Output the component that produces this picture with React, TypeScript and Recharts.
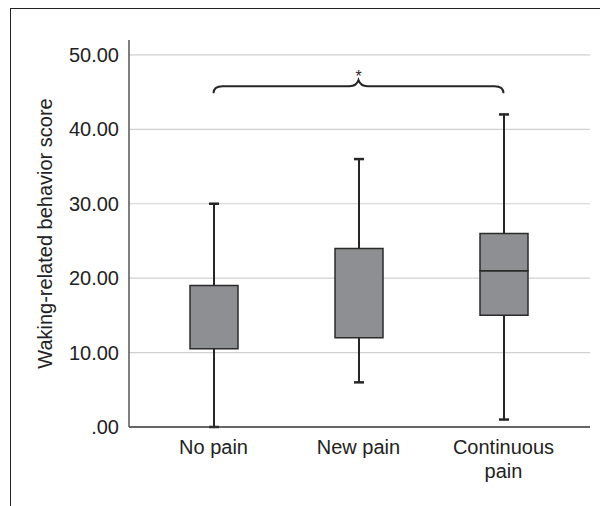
import { ComposedChart, Bar, XAxis, YAxis, CartesianGrid, ReferenceLine, Label } from 'recharts';

// box plot summary per group
const categories = ['No pain', 'New pain', 'Continuous pain'];
const mins = [0, 6, 1];
const q1s = [10.5, 12, 15];
const medians = [19, 24, 21];
const q3s = [19, 24, 26];
const maxs = [30, 36, 42];

const yTicks = [0, 10, 20, 30, 40, 50];
const braceLevel = 45.8;
const braceMark = '*';

const data = categories.map((name, i) => ({
    name,
    base: mins[i],
    lower: q1s[i] - mins[i],
    boxLow: medians[i] - q1s[i],
    boxHigh: q3s[i] - medians[i],
    upper: maxs[i] - q3s[i],
}));

const FONT = '"Liberation Sans", Arial, Helvetica, sans-serif';
const INK = '#262626';

const whisker = (capAt: 'top' | 'bottom') => (props: any) => {
    const { x, y, width, height } = props;
    const cx = x + width / 2;
    const capY = capAt === 'top' ? y : y + height;
    return (
        <g>
            <line x1={cx} x2={cx} y1={y} y2={y + height} stroke={INK} strokeWidth={2} />
            <line x1={cx - 5} x2={cx + 5} y1={capY} y2={capY} stroke={INK} strokeWidth={2.5} />
        </g>
    );
};

const braceShape = (props: any) => {
    const { x1, y1, x2 } = props;
    const mid = (x1 + x2) / 2;
    const d = `M${x1},${y1 + 7} Q${x1},${y1} ${x1 + 9},${y1} L${mid - 9},${y1} Q${mid - 2},${y1} ${mid},${y1 - 6} Q${mid + 2},${y1} ${mid + 9},${y1} L${x2 - 9},${y1} Q${x2},${y1} ${x2},${y1 + 7}`;
    return (
        <g>
            <path d={d} fill="none" stroke={INK} strokeWidth={2} />
            <text x={mid} y={y1 - 4} textAnchor="middle" fontSize={16} fill={INK} fontFamily={FONT}>
                {braceMark}
            </text>
        </g>
    );
};

const XTick = (props: any) => {
    const { x, y, payload } = props;
    const words = String(payload.value).split(' ');
    const lines = String(payload.value) === 'Continuous pain' ? [words[0], words.slice(1).join(' ')] : [payload.value];
    return (
        <text x={x} y={y + 27} textAnchor="middle" fontSize={20} fill="#222" fontFamily={FONT}>
            {lines.map((l: string, i: number) => (
                <tspan key={i} x={x} dy={i === 0 ? 0 : 24}>
                    {l}
                </tspan>
            ))}
        </text>
    );
};

const yLabel = (props: any) => {
    const vb = props.viewBox || {};
    const cy = vb.y + vb.height / 2;
    const cx = 45;
    return (
        <text
            x={cx}
            y={cy}
            transform={`rotate(-90, ${cx}, ${cy})`}
            textAnchor="middle"
            dominantBaseline="central"
            fontSize={20}
            fill="#222"
            fontFamily={FONT}
        >
            Waking-related behavior score
        </text>
    );
};

export default function App() {
    return (
        <div style={{ position: 'absolute', left: 0, top: 0, width: 600, height: 506, background: '#fff', fontFamily: FONT }}>
            <div
                style={{
                    position: 'absolute',
                    left: 10,
                    top: 8,
                    width: 590,
                    height: 497,
                    borderTop: '1.5px solid #222',
                    borderLeft: '1.5px solid #222',
                }}
            />
            <ComposedChart
                width={600}
                height={506}
                data={data}
                margin={{ top: 40, right: 10, bottom: 19, left: 0 }}
                style={{ position: 'absolute', left: 0, top: 0 }}
            >
                <CartesianGrid vertical={false} stroke="#d0d0d0" strokeWidth={1.2} horizontalValues={yTicks.slice(1)} />
                <XAxis
                    dataKey="name"
                    type="category"
                    height={60}
                    padding={{ left: 12, right: 14 }}
                    tickLine={false}
                    tickSize={0}
                    tickMargin={0}
                    axisLine={{ stroke: '#333', strokeWidth: 1.5 }}
                    tick={<XTick />}
                    interval={0}
                />
                <YAxis
                    type="number"
                    width={129}
                    domain={[0, 52]}
                    ticks={yTicks}
                    tickFormatter={(v: number) => (v === 0 ? '.00' : v.toFixed(2))}
                    tickLine={false}
                    tickSize={0}
                    tickMargin={10}
                    axisLine={{ stroke: '#555', strokeWidth: 1.5 }}
                    tick={{ fontSize: 20, fill: '#222', fontFamily: FONT }}
                >
                    <Label content={yLabel} />
                </YAxis>
                <Bar dataKey="base" stackId="box" barSize={48} fill="none" isAnimationActive={false} />
                <Bar dataKey="lower" stackId="box" barSize={48} shape={whisker('bottom')} isAnimationActive={false} />
                <Bar dataKey="boxLow" stackId="box" barSize={48} fill="#8e8f92" stroke="#2b2b2b" strokeWidth={1.5} isAnimationActive={false} />
                <Bar dataKey="boxHigh" stackId="box" barSize={48} fill="#8e8f92" stroke="#2b2b2b" strokeWidth={1.5} isAnimationActive={false} />
                <Bar dataKey="upper" stackId="box" barSize={48} shape={whisker('top')} isAnimationActive={false} />
                <ReferenceLine
                    segment={[
                        { x: categories[0], y: braceLevel },
                        { x: categories[2], y: braceLevel },
                    ]}
                    shape={braceShape}
                />
            </ComposedChart>
        </div>
    );
}
